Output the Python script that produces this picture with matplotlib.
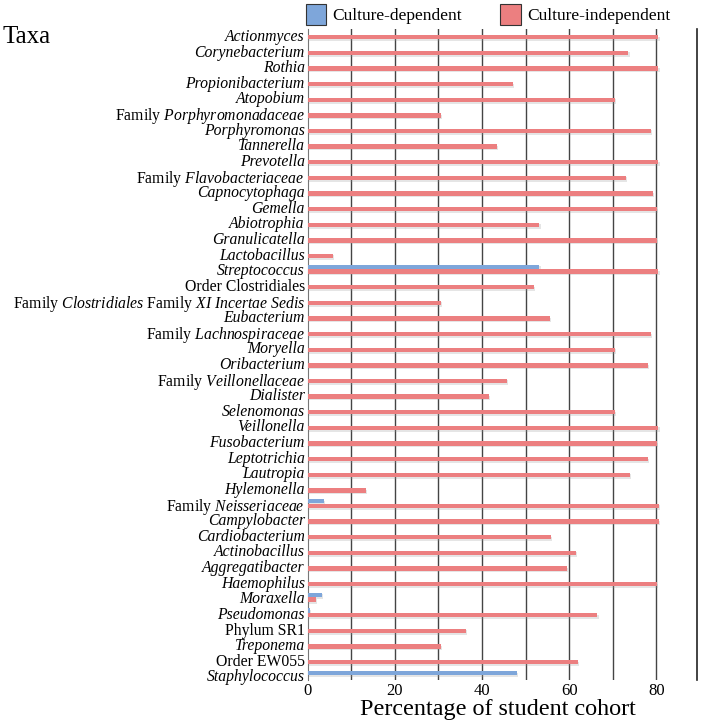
import matplotlib.pyplot as plt
import matplotlib.patheffects as pe
from matplotlib.patches import Patch
import numpy as np

plt.rcParams['font.family'] = ['Liberation Serif', 'DejaVu Serif']
plt.rcParams['mathtext.fontset'] = 'custom'
plt.rcParams['mathtext.rm'] = 'Liberation Serif'
plt.rcParams['mathtext.it'] = 'Liberation Serif:italic'

# names written with $\mathit{}$ only where roman and italic are mixed
taxa = [
    'Actionmyces',
    'Corynebacterium',
    'Rothia',
    'Propionibacterium',
    'Atopobium',
    r'Family $\mathit{Porphyromonadaceae}$',
    'Porphyromonas',
    'Tannerella',
    'Prevotella',
    r'Family $\mathit{Flavobacteriaceae}$',
    'Capnocytophaga',
    'Gemella',
    'Abiotrophia',
    'Granulicatella',
    'Lactobacillus',
    'Streptococcus',
    'Order Clostridiales',
    r'Family $\mathit{Clostridiales}$ Family $\mathit{XI\ Incertae\ Sedis}$',
    'Eubacterium',
    r'Family $\mathit{Lachnospiraceae}$',
    'Moryella',
    'Oribacterium',
    r'Family $\mathit{Veillonellaceae}$',
    'Dialister',
    'Selenomonas',
    'Veillonella',
    'Fusobacterium',
    'Leptotrichia',
    'Lautropia',
    'Hylemonella',
    r'Family $\mathit{Neisseriaceae}$',
    'Campylobacter',
    'Cardiobacterium',
    'Actinobacillus',
    'Aggregatibacter',
    'Haemophilus',
    'Moraxella',
    'Pseudomonas',
    'Phylum SR1',
    'Treponema',
    'Order EW055',
    'Staphylococcus',
]
roman = ['Order Clostridiales', 'Phylum SR1', 'Order EW055']

culture_dep = [0, 0, 0, 0, 0, 0, 0, 0, 0, 0, 0, 0, 0, 0, 0, 53.2,
               0, 0, 0, 0, 0, 0, 0, 0, 0, 0, 0, 0, 0, 0, 3.8,
               0, 0, 0, 0, 0, 3.3, 0.6, 0, 0, 0, 48.0]

culture_indep = [80.5, 73.6, 80.5, 47.1, 70.5, 30.7, 78.8, 43.5, 80.5, 73.1,
                 79.3, 80.2, 53.2, 80.2, 5.8, 80.5, 52.0, 30.7, 55.5, 78.8,
                 70.5, 78.0, 45.7, 41.7, 70.5, 80.5, 80.2, 78.0, 74.0, 13.4,
                 80.7, 80.7, 55.8, 61.6, 59.4, 80.2, 1.9, 66.5, 36.4, 30.7,
                 62.1, 0]

blue = '#7ea6da'
red = '#ec7f80'

fig = plt.figure(figsize=(7.01, 7.23), dpi=100)
ax = fig.add_axes([0.4387, 0.0595, 0.5554, 0.9004])

y = np.arange(len(taxa))
shadow = [pe.SimplePatchShadow(offset=(0.8, -1.2), shadow_rgbFace='#999999', alpha=0.25), pe.Normal()]
ax.barh(y - 0.15, culture_dep, height=0.28, color=blue, path_effects=shadow, zorder=3)
ax.barh(y + 0.15, culture_indep, height=0.28, color=red, path_effects=shadow, zorder=3)

ax.set_xlim(0, 89.3)
ax.set_ylim(41.29, -0.38)
ax.set_yticks(y)
ax.set_yticklabels(taxa, fontsize=11.3)
for lab in ax.get_yticklabels():
    t = lab.get_text()
    if '$' not in t and t not in roman:
        lab.set_fontstyle('italic')
ax.set_xticks([0, 20, 40, 60, 80])
ax.set_xticklabels(['0', '20', '40', '60', '80'], fontsize=12)
ax.tick_params(axis='both', length=0, pad=2)

# gridlines every 10
for g in range(10, 90, 10):
    ax.axvline(g, color='#444444', linewidth=1, zorder=1)

ax.spines['top'].set_visible(False)
ax.spines['bottom'].set_visible(False)
ax.spines['left'].set_color('#777777')
ax.spines['right'].set_color('#222222')
ax.spines['right'].set_linewidth(1.2)

fig.text(0.004, 1 - 43 / 723, 'Taxa', fontsize=18, va='baseline', ha='left')
fig.text(0.7104, 1 - 715 / 723, 'Percentage of student cohort', fontsize=17.4,
         va='baseline', ha='center')

handles = [Patch(facecolor=blue, edgecolor='#333333', linewidth=0.8, label='Culture-dependent'),
           Patch(facecolor=red, edgecolor='#333333', linewidth=0.8, label='Culture-independent')]
fig.legend(handles=handles, loc='upper left', bbox_to_anchor=(0.426, 1.004), ncol=2,
           frameon=False, fontsize=12.5, handlelength=1.2, handleheight=1.5,
           handletextpad=0.35, columnspacing=2.2, borderaxespad=0)

plt.savefig('out.png', dpi=100)
